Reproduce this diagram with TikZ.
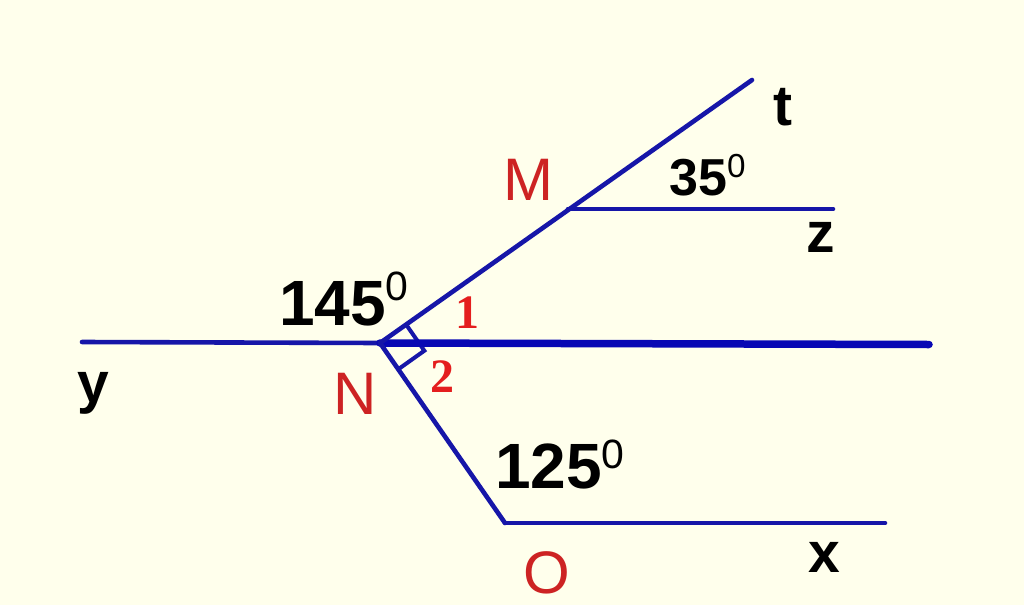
\documentclass[tikz,border=0pt]{standalone}
\usepackage{fontspec}
\usetikzlibrary{calc}
\setmainfont{Liberation Sans}
\newfontfamily\serifnum{Liberation Serif}
\definecolor{bgc}{RGB}{255,255,236}
\definecolor{lineblue}{RGB}{22,22,168}
\definecolor{thickblue}{RGB}{8,8,180}
\definecolor{ptred}{RGB}{205,35,35}
\definecolor{numred}{RGB}{228,30,30}
\newcommand{\degzero}[1]{\raisebox{#1}{\scalebox{0.64}{\mdseries 0}}}
\begin{document}
\begin{tikzpicture}[x=1pt,y=-1pt,
  ray/.style={draw=lineblue,line width=4.6pt,line cap=round},
  thickray/.style={draw=thickblue,line width=7.5pt,line cap=round},
  anglelbl/.style={inner sep=0pt,anchor=base west,font=\fontsize{64}{64}\bfseries\selectfont},
  smalllbl/.style={inner sep=0pt,anchor=base west,font=\fontsize{52}{52}\bfseries\selectfont},
  raylbl/.style={inner sep=0pt,anchor=base west,font=\fontsize{57}{57}\bfseries\selectfont},
  ptlbl/.style={inner sep=0pt,anchor=base west,text=ptred,font=\fontsize{60}{60}\selectfont},
  numlbl/.style={inner sep=0pt,anchor=base west,text=numred,font=\fontsize{48}{48}\serifnum\bfseries\selectfont}]
\fill[bgc] (0,0) rectangle (1024,605);
\useasboundingbox (0,0) rectangle (1024,605);
% points
\coordinate (N) at (380,343);
\coordinate (M) at (568,209);
\coordinate (T) at (752,80);
\coordinate (Z) at (833,209);
\coordinate (Y) at (82,342);
\coordinate (R) at (929,344.5);
\coordinate (O) at (505,523);
\coordinate (X) at (885,523);
% right angle mark
\coordinate (A1) at ($(N)!32pt!(M)$);
\coordinate (A2) at ($(N)!32pt!(O)$);
\coordinate (A3) at ($(A1)+(A2)-(N)$);
\draw[draw=lineblue,line width=4pt] (A1) -- (A3) -- (A2);
% rays
\draw[ray] (Y) -- (N);
\draw[thickray] (N) -- (R);
\draw[ray] (N) -- (T);
\draw[ray] (M) -- (Z);
\draw[ray] (N) -- (O);
\draw[ray] (O) -- (X);
% labels
\node[anglelbl] (a145) at (279,325) {145\degzero{25pt}};
\node[anglelbl] (a125) at (495,488) {125\degzero{20pt}};
\node[smalllbl] (a35) at (669,195) {35\degzero{18pt}};
\node[raylbl] (lt) at (773,125) {t};
\node[raylbl] (lz) at (806,252) {z};
\node[raylbl] (ly) at (77,402) {y};
\node[raylbl] (lx) at (808,572) {x};
\node[ptlbl] (lM) at (503,200) {M};
\node[ptlbl] (lN) at (333,414) {N};
\node[ptlbl] (lO) at (523,593) {O};
\node[numlbl] (n1) at (455,328) {1};
\node[numlbl] (n2) at (430,392) {2};
\end{tikzpicture}
\end{document}
